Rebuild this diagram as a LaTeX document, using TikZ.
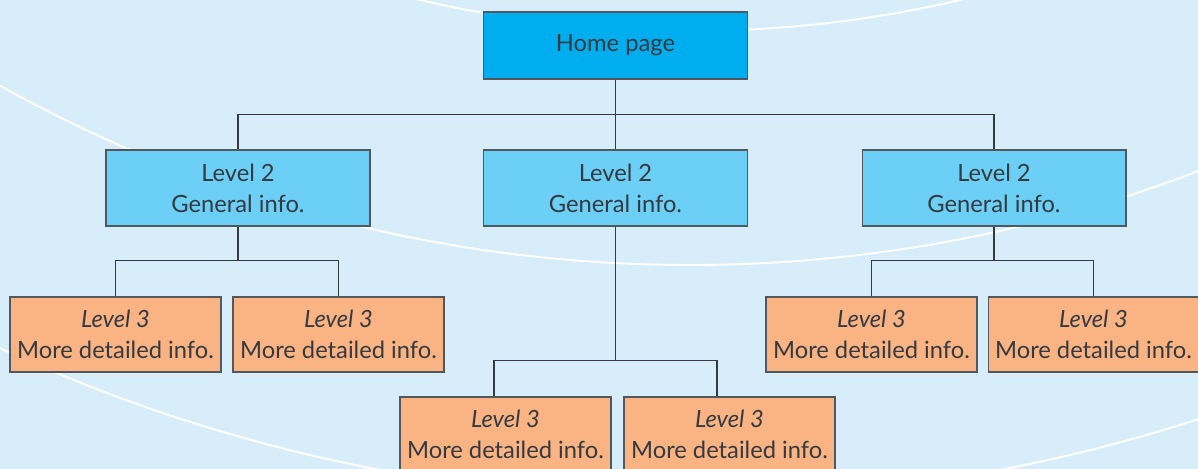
\documentclass[tikz,border=0pt]{standalone}
\usepackage{fontspec}
\setmainfont{Lato}
\usetikzlibrary{positioning}

\definecolor{sky}{RGB}{215,237,250}
\definecolor{homeblue}{RGB}{0,174,239}
\definecolor{levelblue}{RGB}{108,207,246}
\definecolor{peach}{RGB}{250,180,132}
\definecolor{ink}{RGB}{52,58,64}

\tikzstyle{box} = [align=center, draw=ink!85, line width=0.6pt, rectangle, text=ink, font=\fontsize{13.5}{17.5}\selectfont, inner sep=0pt]
\tikzstyle{home} = [box, fill=homeblue, minimum width=5.28cm, minimum height=1.34cm]
\tikzstyle{second} = [box, fill=levelblue, minimum width=5.28cm, minimum height=1.52cm]
\tikzstyle{third} = [box, fill=peach, minimum width=4.22cm, minimum height=1.5cm]
\tikzstyle{link} = [draw=ink, line width=0.7pt]
\tikzstyle{swoosh} = [draw=white, line width=1.1pt]

\begin{document}
\begin{tikzpicture}[x=0.02cm,y=-0.02cm]
            %
            % Background and the white arcs behind the chart
            \useasboundingbox (0,0) rectangle (1198,469);
            \clip (0,0) rectangle (1198,469);
            \fill [sky] (0,0) rectangle (1198,469);
            \draw [swoosh] (690,-1150) circle (1181);
            \draw [swoosh] (690,-1150) circle (1415);
            \draw [swoosh] (690,-1150) circle (1649);
            %
            % We start by placing the blocks
            \node [home] (home) at (615.5,45.5) {Home page};
            \node [second] (info1) at (238,188) {Level 2\\General info.};
            \node [second] (info2) at (615.5,188) {Level 2\\General info.};
            \node [second] (info3) at (994,188) {Level 2\\General info.};
            %
            \node [third] (detail1) at (115.5,334.5) {\textit{Level 3}\\More detailed info.};
            \node [third] (detail2) at (338.5,334.5) {\textit{Level 3}\\More detailed info.};
            \node [third] (detail3) at (505.5,434.5) {\textit{Level 3}\\More detailed info.};
            \node [third] (detail4) at (729.5,434.5) {\textit{Level 3}\\More detailed info.};
            \node [third] (detail5) at (871.5,334.5) {\textit{Level 3}\\More detailed info.};
            \node [third] (detail6) at (1093.5,334.5) {\textit{Level 3}\\More detailed info.};
            %
            % Once the nodes are placed, connecting them is easy.
            \draw [link] (home.south) -- ++(0,35) -| (info1.north);
            \draw [link] (home.south) -- ++(0,35) -| (info3.north);
            \draw [link] (home.south) -- (info2.north);
            \draw [link] (info1.south) -- ++(0,34) -| (detail1.north);
            \draw [link] (info1.south) -- ++(0,34) -| (detail2.north);
            \draw [link] (info2.south) -- ++(0,134) -| ([xshift=-0.23cm]detail3.north);
            \draw [link] (info2.south) -- ++(0,134) -| ([xshift=-0.25cm]detail4.north);
            \draw [link] (info3.south) -- ++(0,34) -| (detail5.north);
            \draw [link] (info3.south) -- ++(0,34) -| (detail6.north);
            %
        \end{tikzpicture}
\end{document}
